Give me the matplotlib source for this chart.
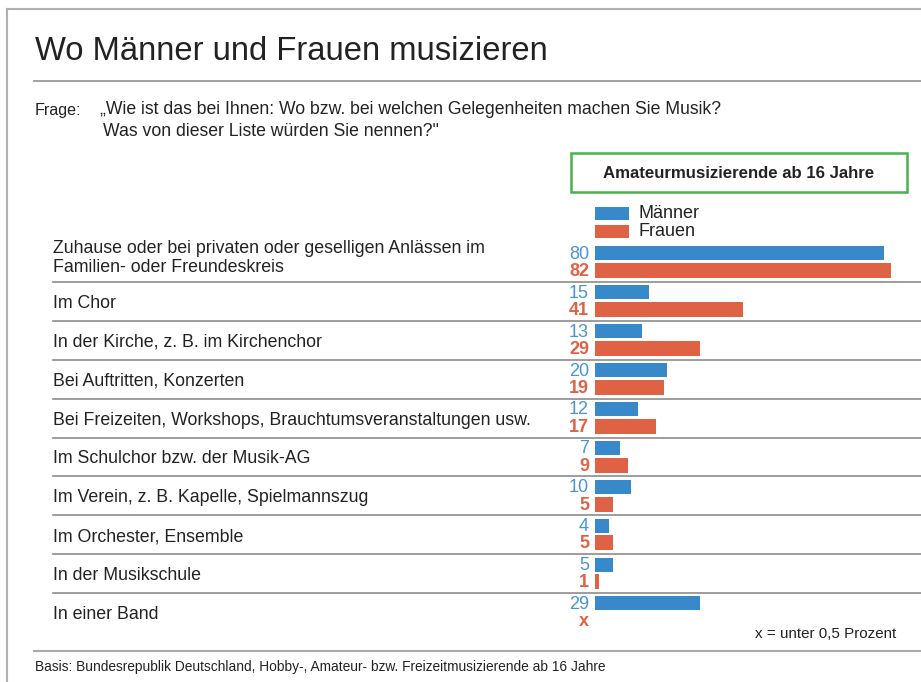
import matplotlib
matplotlib.use("Agg")
import matplotlib.pyplot as plt
from matplotlib.patches import Rectangle
from matplotlib.lines import Line2D

plt.rcParams['font.family'] = ['Liberation Sans', 'DejaVu Sans']

# ---------------- data ----------------
categories = [
    "Zuhause oder bei privaten oder geselligen Anlässen im\nFamilien- oder Freundeskreis",
    "Im Chor",
    "In der Kirche, z. B. im Kirchenchor",
    "Bei Auftritten, Konzerten",
    "Bei Freizeiten, Workshops, Brauchtumsveranstaltungen usw.",
    "Im Schulchor bzw. der Musik-AG",
    "Im Verein, z. B. Kapelle, Spielmannszug",
    "Im Orchester, Ensemble",
    "In der Musikschule",
    "In einer Band",
]
maenner = [80, 15, 13, 20, 12, 7, 10, 4, 5, 29]
frauen = [82, 41, 29, 19, 17, 9, 5, 5, 1, None]   # None = unter 0,5 Prozent ("x")
series_names = ["Männer", "Frauen"]

title = "Wo Männer und Frauen musizieren"
frage_lines = ["„Wie ist das bei Ihnen: Wo bzw. bei welchen Gelegenheiten machen Sie Musik?",
               "Was von dieser Liste würden Sie nennen?\""]
box_text = "Amateurmusizierende ab 16 Jahre"
footnote = "x = unter 0,5 Prozent"
basis = "Basis: Bundesrepublik Deutschland, Hobby-, Amateur- bzw. Freizeitmusizierende ab 16 Jahre"

BLUE = "#3889C9"
ORANGE = "#E06245"
BLUE_TXT = "#4A93D4"
DARK = "#222222"
GRID = "#8c8c8c"

W, H = 921, 682
fig = plt.figure(figsize=(W / 100, H / 100), dpi=100)
fig.patch.set_facecolor("white")

# background axes in pixel coordinates (y downward)
bg = fig.add_axes([0, 0, 1, 1])
bg.set_xlim(0, W)
bg.set_ylim(H, 0)
bg.axis("off")

renderer = fig.canvas.get_renderer()


def fit(t, target):
    for _ in range(3):
        w = t.get_window_extent(renderer=renderer).width
        t.set_fontsize(t.get_fontsize() * target / w)


# frame
bg.add_line(Line2D([7, 7], [9, H], color="#b0b0b0", lw=1.5))
bg.add_line(Line2D([7, W], [9, 9], color="#b0b0b0", lw=1.5))

# title
t = bg.text(35, 51, title, fontsize=23, color=DARK, va="center", ha="left")
fit(t, 514)
bg.add_line(Line2D([34, W], [81, 81], color="#999999", lw=1.3))

# Frage
t = bg.text(35, 110, "Frage:", fontsize=11, color=DARK, va="center")
fit(t, 47)
t1 = bg.text(100, 110, frage_lines[0], fontsize=11, color=DARK, va="center")
fit(t1, 619)
t2 = bg.text(103, 131, frage_lines[1], fontsize=t1.get_fontsize(), color=DARK, va="center")

# green box
bg.add_patch(Rectangle((571, 153), 336, 39, facecolor="white", edgecolor="#4CAF50", lw=1.8))
t = bg.text(739, 173, box_text, fontsize=11, color=DARK, va="center", ha="center", fontweight="bold")
fit(t, 271)

# legend
for k, (name, col) in enumerate(zip(series_names, [BLUE, ORANGE])):
    y0 = 207 + 18 * k
    bg.add_patch(Rectangle((595, y0), 34, 12.5, facecolor=col, edgecolor="none"))
    tl = bg.text(638, y0 + 6, name, fontsize=12, color=DARK, va="center")
    if k == 0:
        fit(tl, 61)
        leg_fs = tl.get_fontsize()
    else:
        tl.set_fontsize(leg_fs)

# rows geometry
row_top = 243.0
pitch = 38.9
n = len(categories)
ax_bottom = row_top + pitch * n
x0_px = 595.0
px_per_unit = 3.615

ax = fig.add_axes([x0_px / W, 1 - ax_bottom / H, (W - x0_px) / W, (ax_bottom - row_top) / H])
ax.set_xlim(0, (W - x0_px) / px_per_unit)
ax.set_ylim(n, 0)
ax.axis("off")
ax.patch.set_alpha(0)

pos = list(range(n))
blue_c = [p + 0.265 for p in pos]
orange_c = [p + 0.71 for p in pos]
ax.barh(blue_c, maenner, height=0.36, color=BLUE, left=0)
ax.barh(orange_c, [v if v is not None else 0 for v in frauen], height=0.385, color=ORANGE, left=0)

# separators
for i in range(1, n):
    y = row_top + pitch * i
    bg.add_line(Line2D([53, W], [y, y], color=GRID, lw=1.2))
bg.add_line(Line2D([34, W], [651, 651], color="#aaaaaa", lw=1.5))

# labels
label_texts = []
for i, cat in enumerate(categories):
    yc = row_top + pitch * i + pitch / 2 + (2 if "\n" not in cat else -4)
    lt = bg.text(53, yc, cat, fontsize=13, color=DARK, va="center", ha="left", linespacing=1.15)
    label_texts.append(lt)
fit(label_texts[4], 477)
for lt in label_texts:
    lt.set_fontsize(label_texts[4].get_fontsize())

# values
for i in range(n):
    yb = row_top + pitch * (i + 0.265) + 1
    yo = row_top + pitch * (i + 0.71) + 1
    bg.text(589, yb, str(maenner[i]), fontsize=13, color=BLUE_TXT, ha="right", va="center")
    fv = frauen[i]
    bg.text(589, yo, "x" if fv is None else str(fv), fontsize=13, color=ORANGE,
            ha="right", va="center", fontweight="bold")

# footnotes
t = bg.text(896, 634, footnote, fontsize=10, color=DARK, ha="right", va="center")
fit(t, 142)
t = bg.text(35, 667, basis, fontsize=9, color=DARK, ha="left", va="center")
fit(t, 573)

fig.savefig("out.png", dpi=100)
